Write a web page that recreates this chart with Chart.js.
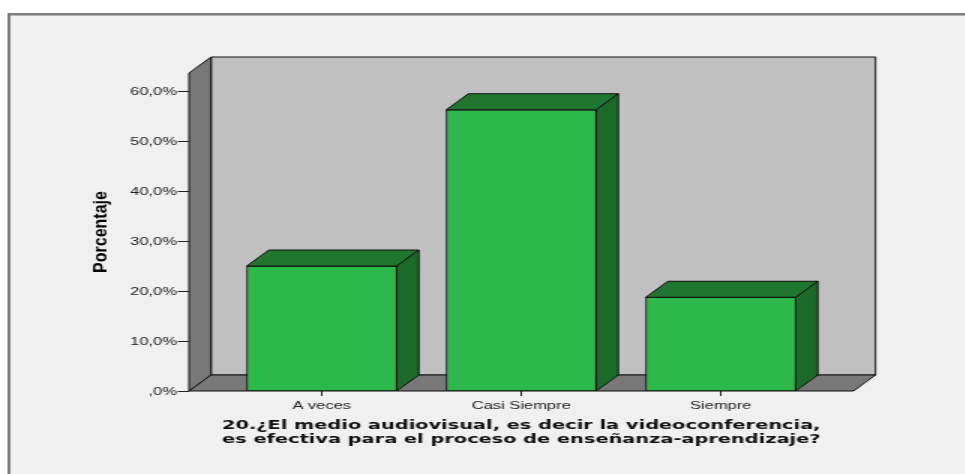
<!DOCTYPE html>
<html>
<head>
<meta charset="utf-8">
<script src="https://cdn.jsdelivr.net/npm/chart.js@4/dist/chart.umd.min.js"></script>
<style>
  html, body { margin: 0; padding: 0; background: #fff; overflow: hidden; }
  #wrap { width: 965px; height: 474px; overflow: hidden; }
  /* the SPSS picture is stretched sideways, so the canvas is too */
  #grafico { display: block; transform: scale(1.5, 1); transform-origin: 0 0; }
</style>
</head>
<body>
<div id="wrap"><canvas id="grafico" width="643" height="474"></canvas></div>
<script>
// datos
var categorias = ["A veces", "Casi Siempre", "Siempre"];
var porcentajes = [25.0, 56.25, 18.75];
var marcasY = [0, 10, 20, 30, 40, 50, 60];
var etiquetasY = [",0%", "10,0%", "20,0%", "30,0%", "40,0%", "50,0%", "60,0%"];
var tituloX = ["20.¿El medio audiovisual, es decir la videoconferencia,",
               "es efectiva para el proceso de enseñanza-aprendizaje?"];

var SX = 1.5;        // horizontal stretch of the canvas
var PX = 14.7;       // depth offset x (canvas px)
var PY = -16;        // depth offset y
var MARGEN = 22;     // floor margin left/right of the category band

function poly(ctx, pts, fill) {
  ctx.beginPath();
  ctx.moveTo(pts[0][0], pts[0][1]);
  for (var i = 1; i < pts.length; i++) ctx.lineTo(pts[i][0], pts[i][1]);
  ctx.closePath();
  ctx.fillStyle = fill;
  ctx.fill();
  ctx.strokeStyle = "#111";
  ctx.lineWidth = 1;
  ctx.stroke();
}

var efecto3d = {
  id: "efecto3d",
  beforeDraw: function(chart) {
    var ctx = chart.ctx;
    ctx.save();
    ctx.fillStyle = "#fff";
    ctx.fillRect(0, 0, chart.width, chart.height);
    ctx.fillStyle = "#f0f0f0";
    ctx.fillRect(5, 13, chart.width, chart.height);
    ctx.fillStyle = "#7d7d7d";
    ctx.fillRect(5, 13, chart.width, 2.5);
    ctx.fillRect(5, 13, 2, chart.height);
    ctx.restore();
  },
  beforeDatasetsDraw: function(chart) {
    var ctx = chart.ctx, a = chart.chartArea, y = chart.scales.y;
    var x0 = a.left - MARGEN, x1 = a.right + MARGEN;
    var top = y.getPixelForValue(y.max), bot = y.getPixelForValue(0);
    ctx.save();
    // back wall
    poly(ctx, [[x0 + PX, top + PY], [x1 + PX, top + PY], [x1 + PX, bot + PY], [x0 + PX, bot + PY]], "#c0c0c0");
    // left wall
    poly(ctx, [[x0, bot], [x0, top], [x0 + PX, top + PY], [x0 + PX, bot + PY]], "#787878");
    // floor
    poly(ctx, [[x0, bot], [x0 + PX, bot + PY], [x1 + PX, bot + PY], [x1, bot]], "#787878");

    // y axis ticks and labels
    ctx.strokeStyle = "#222";
    ctx.lineWidth = 1;
    ctx.fillStyle = "#222";
    ctx.font = '11px "Liberation Sans", Arial, sans-serif';
    ctx.textAlign = "right";
    ctx.textBaseline = "middle";
    for (var i = 0; i < marcasY.length; i++) {
      var py = Math.round(y.getPixelForValue(marcasY[i])) + 0.5;
      ctx.beginPath();
      ctx.moveTo(x0 - 7.5, py);
      ctx.lineTo(x0, py);
      ctx.stroke();
      ctx.fillText(etiquetasY[i], x0 - 8, py);
    }

    // y title: tall, condensed look like the SPSS one
    ctx.translate(67, (top + bot) / 2);
    ctx.scale(1.2 / SX, 1);
    ctx.rotate(-Math.PI / 2);
    ctx.font = 'bold 16px "Liberation Sans", Arial, sans-serif';
    ctx.textAlign = "center";
    ctx.fillStyle = "#000";
    ctx.fillText("Porcentaje", 0, 0);
    ctx.restore();
  },
  afterDatasetsDraw: function(chart) {
    var ctx = chart.ctx;
    var meta = chart.getDatasetMeta(0);
    ctx.save();
    meta.data.forEach(function(bar) {
      var p = bar.getProps(["x", "y", "base", "width"], true);
      var l = p.x - p.width / 2, r = p.x + p.width / 2;
      poly(ctx, [[l, p.y], [l + PX, p.y + PY], [r + PX, p.y + PY], [r, p.y]], "#20752f");
      poly(ctx, [[r, p.y], [r + PX, p.y + PY], [r + PX, p.base + PY], [r, p.base]], "#1b6a2a");
    });
    ctx.restore();
  }
};

var ctxB = document.getElementById("grafico").getContext("2d");
var grafico = new Chart(ctxB, {
  type: "bar",
  data: {
    labels: categorias,
    datasets: [{
      data: porcentajes,
      backgroundColor: "#2db84b",
      borderColor: "#111",
      borderWidth: 1,
      borderSkipped: false,
      barThickness: 100
    }]
  },
  options: {
    responsive: false,
    devicePixelRatio: 1,
    animation: false,
    layout: { padding: { left: 148, right: 96, top: 73, bottom: 27 } },
    plugins: { legend: { display: false }, tooltip: { enabled: false } },
    scales: {
      y: {
        display: false,
        min: 0,
        max: 63.6
      },
      x: {
        offset: true,
        border: { display: false },
        grid: { display: true, drawOnChartArea: false, offset: false, tickLength: 5, color: "#222" },
        ticks: { color: "#222", padding: 3, font: { family: '"Liberation Sans", Arial, sans-serif', size: 11 } },
        title: {
          display: true,
          text: tituloX,
          color: "#111",
          padding: { top: 2, bottom: 0 },
          font: { family: '"DejaVu Sans", sans-serif', weight: "bold", size: 13, lineHeight: 1.08 }
        },
        afterFit: function(scale) { scale.height = 56; }
      }
    }
  },
  plugins: [efecto3d]
});
</script>
</body>
</html>
